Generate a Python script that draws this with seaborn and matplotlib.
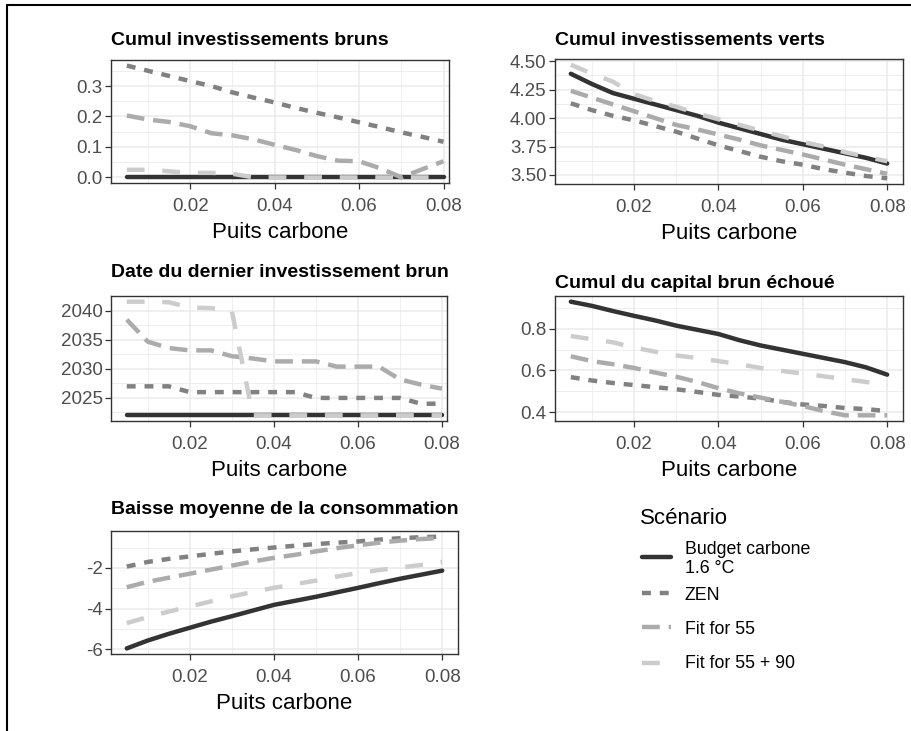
import matplotlib
matplotlib.use("Agg")
import matplotlib.pyplot as plt
import seaborn as sns
import pandas as pd
from matplotlib.lines import Line2D
from matplotlib.ticker import MultipleLocator, AutoMinorLocator, FormatStrFormatter

# ---- data ----
puits = [0.005, 0.010, 0.015, 0.020, 0.025, 0.030, 0.035, 0.040,
         0.045, 0.050, 0.055, 0.060, 0.065, 0.070, 0.075, 0.080]
scenarios = ["Budget carbone\n1.6 °C", "ZEN", "Fit for 55", "Fit for 55 + 90"]

# Cumul investissements bruns
bruns_budget = [0.0, 0.0, 0.0, 0.0, 0.0, 0.0, 0.0, 0.0, 0.0, 0.0, 0.0, 0.0, 0.0, 0.0, 0.0, 0.0]
bruns_zen = [0.367, 0.350, 0.333, 0.316, 0.300, 0.279, 0.262, 0.246,
             0.228, 0.212, 0.197, 0.181, 0.165, 0.148, 0.133, 0.117]
bruns_f55 = [0.203, 0.190, 0.182, 0.168, 0.145, 0.138, 0.125, 0.107,
             0.090, 0.070, 0.055, 0.053, 0.030, 0.000, 0.027, 0.053]
bruns_f5590 = [0.025, 0.025, 0.020, 0.015, 0.015, 0.012, 0.0, 0.0,
               0.0, 0.0, 0.0, 0.0, 0.0, 0.0, 0.0, 0.0]

# Cumul investissements verts
verts_budget = [4.39, 4.30, 4.22, 4.17, 4.12, 4.07, 4.02, 3.96,
                3.91, 3.86, 3.81, 3.77, 3.73, 3.69, 3.65, 3.60]
verts_zen = [4.13, 4.07, 4.02, 3.98, 3.93, 3.88, 3.82, 3.76,
             3.71, 3.66, 3.62, 3.59, 3.55, 3.52, 3.49, 3.47]
verts_f55 = [4.24, 4.18, 4.12, 4.06, 4.00, 3.94, 3.90, 3.855,
             3.81, 3.76, 3.72, 3.68, 3.635, 3.59, 3.55, 3.51]
verts_f5590 = [4.47, 4.39, 4.32, 4.21, 4.15, 4.10, 4.04, 3.99,
               3.94, 3.89, 3.84, 3.79, 3.75, 3.70, 3.66, 3.62]

# Date du dernier investissement brun
date_budget = [2022, 2022, 2022, 2022, 2022, 2022, 2022, 2022,
               2022, 2022, 2022, 2022, 2022, 2022, 2022, 2022]
date_zen = [2027, 2027, 2027, 2026, 2026, 2026, 2026, 2026,
            2026, 2025, 2025, 2025, 2025, 2025, 2024, 2024]
date_f55 = [2038.5, 2034.7, 2033.6, 2033.2, 2033.2, 2032.2, 2031.8, 2031.3,
            2031.3, 2031.3, 2030.4, 2030.4, 2030.4, 2028.2, 2027.3, 2026.6]
date_f5590 = [2041.6, 2041.6, 2041.5, 2040.6, 2040.5, 2040.0, 2022, 2022,
              2022, 2022, 2022, 2022, 2022, 2022, 2022, 2022]

# Cumul du capital brun échoué
capital_budget = [0.930, 0.910, 0.885, 0.862, 0.840, 0.815, 0.795, 0.775,
                  0.745, 0.720, 0.700, 0.680, 0.660, 0.640, 0.615, 0.580]
capital_zen = [0.568, 0.552, 0.540, 0.530, 0.520, 0.510, 0.497, 0.483,
               0.475, 0.465, 0.450, 0.437, 0.430, 0.420, 0.415, 0.405]
capital_f55 = [0.668, 0.645, 0.630, 0.612, 0.590, 0.570, 0.545, 0.515,
               0.490, 0.470, 0.450, 0.430, 0.405, 0.385, 0.385, 0.385]
capital_f5590 = [0.765, 0.750, 0.735, 0.710, 0.690, 0.672, 0.660, 0.645,
                 0.630, 0.612, 0.598, 0.585, 0.572, 0.558, 0.545, 0.530]

# Baisse moyenne de la consommation
conso_budget = [-5.97, -5.58, -5.25, -4.95, -4.65, -4.38, -4.10, -3.82,
                -3.62, -3.42, -3.20, -2.98, -2.75, -2.53, -2.33, -2.13]
conso_zen = [-1.93, -1.70, -1.55, -1.43, -1.30, -1.18, -1.08, -0.99,
             -0.90, -0.82, -0.75, -0.69, -0.60, -0.53, -0.48, -0.45]
conso_f55 = [-2.95, -2.68, -2.48, -2.28, -2.08, -1.88, -1.68, -1.50,
             -1.35, -1.18, -1.02, -0.88, -0.75, -0.65, -0.57, -0.52]
conso_f5590 = [-4.72, -4.42, -4.15, -3.90, -3.65, -3.40, -3.18, -2.98,
               -2.80, -2.62, -2.42, -2.25, -2.10, -1.98, -1.85, -1.70]


def long_df(*series):
    rows = []
    for scen, values in zip(scenarios, series):
        for x, v in zip(puits, values):
            rows.append({"puits": x, "scenario": scen, "valeur": v})
    return pd.DataFrame(rows)


sns.set_theme(style="white")
plt.rcParams["font.family"] = ["Liberation Sans", "DejaVu Sans"]
plt.rcParams["axes.unicode_minus"] = False

palette = dict(zip(scenarios, ["#333333", "#818181", "#ABABAB", "#CCCCCC"]))
dashes = dict(zip(scenarios, ["", (2, 2), (4, 2), (4, 4)]))
LW = 3.2

W, H = 912, 731
fig = plt.figure(figsize=(W / 100, H / 100), dpi=100)


def px_rect(left, top, right, bottom):
    return [left / W, 1 - bottom / H, (right - left) / W, (bottom - top) / H]


# (title, data, rect px, title baseline px, x max, y step, y format)
panels = [
    ("Cumul investissements bruns",
     long_df(bruns_budget, bruns_zen, bruns_f55, bruns_f5590),
     (111, 60, 449, 183), 45, 0.0813, 0.1, "%.1f"),
    ("Cumul investissements verts",
     long_df(verts_budget, verts_zen, verts_f55, verts_f5590),
     (555, 59, 903, 184), 45, 0.08375, 0.25, "%.2f"),
    ("Date du dernier investissement brun",
     long_df(date_budget, date_zen, date_f55, date_f5590),
     (111, 296, 447, 421), 277, 0.0812, 5, "%d"),
    ("Cumul du capital brun échoué",
     long_df(capital_budget, capital_zen, capital_f55, capital_f5590),
     (555, 296, 903, 421), 288, 0.08375, 0.2, "%.1f"),
    ("Baisse moyenne de la consommation",
     long_df(conso_budget, conso_zen, conso_f55, conso_f5590),
     (111, 531, 458, 654), 514, 0.08375, 2, "%d"),
]

for title, df, rect, title_y, xmax, ystep, yfmt in panels:
    ax = fig.add_axes(px_rect(*rect))
    sns.lineplot(data=df, x="puits", y="valeur", hue="scenario", style="scenario",
                 hue_order=scenarios, style_order=scenarios, palette=palette,
                 dashes=dashes, linewidth=LW, estimator=None, sort=False,
                 legend=False, ax=ax)
    ax.set_xlim(0.00125, xmax)
    ax.margins(y=0.05)
    ax.xaxis.set_major_locator(MultipleLocator(0.02))
    ax.xaxis.set_minor_locator(MultipleLocator(0.01))
    ax.xaxis.set_major_formatter(FormatStrFormatter("%.2f"))
    ax.yaxis.set_major_locator(MultipleLocator(ystep))
    ax.yaxis.set_minor_locator(AutoMinorLocator(2))
    ax.yaxis.set_major_formatter(FormatStrFormatter(yfmt))
    ax.grid(True, which="major", color="#EBEBEB", linewidth=1.1)
    ax.grid(True, which="minor", color="#EBEBEB", linewidth=0.55)
    ax.set_axisbelow(True)
    for s in ax.spines.values():
        s.set_color("#333333")
        s.set_linewidth(1.0)
    ax.tick_params(which="major", bottom=True, left=True, length=4, width=0.9,
                   color="#333333", labelsize=13.5, labelcolor="#4D4D4D")
    ax.tick_params(axis="x", which="major", pad=7)
    ax.tick_params(axis="y", which="major", pad=2)
    ax.tick_params(which="minor", bottom=False, left=False, length=0)
    ax.set_xlabel("Puits carbone", fontsize=16, labelpad=4.5, color="black")
    ax.set_ylabel("")
    pad_pt = (rect[1] - title_y) * 0.72
    ax.set_title(title, loc="left", fontweight="bold", fontsize=14,
                 pad=pad_pt, color="black")

# legend, drawn by hand to follow the ggplot layout
fig.text(640 / W, 1 - 518 / H, "Scénario", fontsize=16, color="black",
         ha="left", va="center")
key_rows = [557, 593, 627, 663]
text_rows = [559, 595, 629, 663]
for scen, ky, ty in zip(scenarios, key_rows, text_rows):
    fig.add_artist(Line2D([642 / W, 671 / W], [1 - ky / H, 1 - ky / H],
                          color=palette[scen], linewidth=LW, dashes=dashes[scen],
                          transform=fig.transFigure))
    fig.text(685 / W, 1 - ty / H, scen, fontsize=12.8, color="black",
             ha="left", va="center", linespacing=1.15)

# outer frame (top and left edges)
fig.add_artist(Line2D([7.5 / W, 1.0], [1 - 5 / H, 1 - 5 / H], color="black",
                      linewidth=1.5, transform=fig.transFigure))
fig.add_artist(Line2D([7.5 / W, 7.5 / W], [0.0, 1 - 5 / H], color="black",
                      linewidth=1.5, transform=fig.transFigure))

fig.savefig("out.png", dpi=100)
